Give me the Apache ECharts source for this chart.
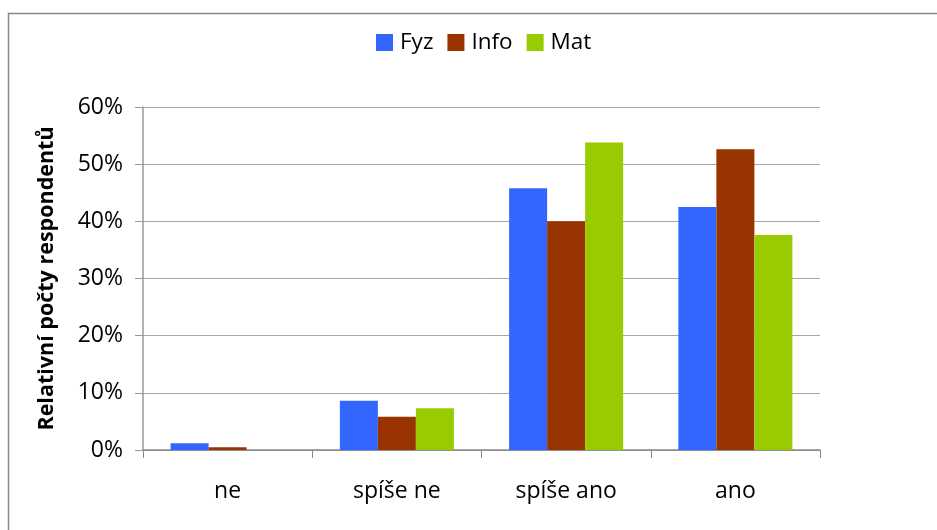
<!DOCTYPE html>
<html><head><meta charset="utf-8">
<script src="https://cdn.jsdelivr.net/npm/echarts@6/dist/echarts.min.js"></script>
<style>html,body{margin:0;padding:0;background:#fff}#c{width:937px;height:530px}</style>
</head><body><div id="c"></div>
<script>
const categories = ['ne', 'spíše ne', 'spíše ano', 'ano'];
const fyz = [1.2, 8.6, 45.8, 42.5];
const info = [0.5, 5.8, 40.0, 52.6];
const mat = [0, 7.3, 53.8, 37.6];
const seriesNames = ['Fyz', 'Info', 'Mat'];
const colors = ['#3366ff', '#993300', '#99cc00'];
const yTicks = [0, 10, 20, 30, 40, 50, 60];

const font = 'Open Sans, Liberation Sans, sans-serif';
const chart = echarts.init(document.getElementById('c'));
const mk = (name, data, i) => ({
  name, type: 'bar', data, barWidth: 38, barGap: '0%',
  itemStyle: { color: colors[i] }, emphasis: { disabled: true }
});
chart.setOption({
  animation: false,
  graphic: [{
    type: 'polyline', silent: true,
    shape: { points: [[8.5, 530], [8.5, 13.5], [937, 13.5]] },
    style: { stroke: '#888888', lineWidth: 1.5, fill: null }
  }],
  legend: {
    top: 31, left: 376, padding: 0, itemWidth: 17, itemHeight: 17, itemGap: 14,
    icon: 'rect',
    textStyle: { fontFamily: font, fontSize: 22.5, color: '#000', padding: [0, 0, 0, 2] },
    data: seriesNames
  },
  grid: { left: 143, right: 117, top: 107, bottom: 80 },
  xAxis: {
    type: 'category', data: categories,
    axisLine: { lineStyle: { color: '#888', width: 1.5 } },
    axisTick: { show: true, length: 8, lineStyle: { color: '#888' } },
    axisLabel: { fontFamily: font, fontSize: 23, color: '#000', margin: 30 }
  },
  yAxis: {
    type: 'value', min: yTicks[0], max: yTicks[yTicks.length - 1], interval: 10,
    name: 'Relativní počty respondentů', nameLocation: 'middle', nameGap: 85,
    nameTextStyle: { fontFamily: font, fontSize: 21.5, fontWeight: 'bold', color: '#000' },
    axisLine: { show: true, lineStyle: { color: '#999', width: 1.5 } },
    axisTick: { show: true, length: 8, lineStyle: { color: '#999' } },
    axisLabel: { fontFamily: font, fontSize: 23, color: '#000', margin: 20, formatter: '{value}%' },
    splitLine: { lineStyle: { color: '#a6a6a6', width: 1 } }
  },
  series: [mk('Fyz', fyz, 0), mk('Info', info, 1), mk('Mat', mat, 2)]
});
</script></body></html>
